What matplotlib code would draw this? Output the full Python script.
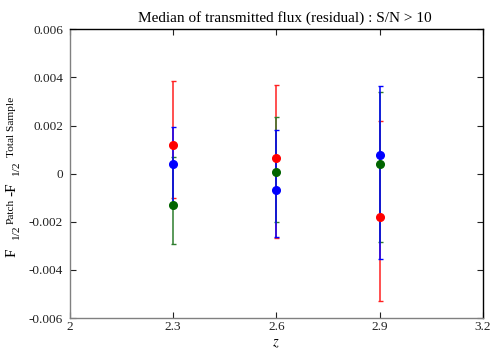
import matplotlib
matplotlib.use("Agg")
import matplotlib.pyplot as plt
import numpy as np

plt.rcParams['font.family'] = ['Liberation Serif', 'DejaVu Serif']
plt.rcParams['mathtext.fontset'] = 'stix'

z = [2.3, 2.6, 2.9]

red_val = [1.21e-3, 0.63e-3, -1.82e-3]
red_low = [-1.0e-3, -2.66e-3, -5.30e-3]
red_high = [3.85e-3, 3.67e-3, 2.18e-3]

green_val = [-1.29e-3, 0.07e-3, 0.41e-3]
green_low = [-2.91e-3, -2.0e-3, -2.84e-3]
green_high = [0.70e-3, 2.36e-3, 3.41e-3]

blue_val = [0.39e-3, -0.66e-3, 0.77e-3]
blue_low = [-1.21e-3, -2.62e-3, -3.55e-3]
blue_high = [1.93e-3, 1.80e-3, 3.64e-3]

xticks = [2, 2.3, 2.6, 2.9, 3.2]
xticklabels = ['2', '2.3', '2.6', '2.9', '3.2']
yticks = [-0.006, -0.004, -0.002, 0, 0.002, 0.004, 0.006]
yticklabels = ['-0.006', '-0.004', '-0.002', '0', '0.002', '0.004', '0.006']

title = 'Median of transmitted flux (residual) : S/N > 10'
# y-label pieces (gnuplot enhanced text): text and level (0 main, -1 sub, +1 sup)
ylabel_texts = ['F', '1/2', 'Patch', '-F', '1/2', 'Total Sample']
ylabel_levels = [0, -1, 1, 0, -1, 1]
# layout: pixel row where each rotated piece starts (from top of image)
ylabel_starts = [257, 240, 224, 196, 176, 157]

W, H = 500, 350
fig = plt.figure(figsize=(5, 3.5), dpi=100)
ax = fig.add_axes([0.14, 0.0914, 0.8254, 0.8249])

series = [
    (red_val, red_low, red_high, '#ff0000', '#ff2020'),
    (green_val, green_low, green_high, '#006400', '#2e7d2e'),
    (blue_val, blue_low, blue_high, '#0000ff', '#0000ff'),
]
for val, low, high, mc, lc in series:
    val = np.array(val); low = np.array(low); high = np.array(high)
    yerr = np.vstack([val - low, high - val])
    ax.errorbar(z, val, yerr=yerr, fmt='o', color=mc, ecolor=lc,
                elinewidth=1.1, capsize=1.8, capthick=1.0, markersize=5.5)

ax.set_xlim(2, 3.2)
ax.set_ylim(-0.006, 0.006)
ax.set_xticks(xticks)
ax.set_xticklabels(xticklabels)
ax.set_yticks(yticks)
ax.set_yticklabels(yticklabels)
ax.tick_params(direction='in', length=4, width=0.8, top=True, right=True,
               labelsize=9.5, colors='#222222')
ax.tick_params(axis='x', pad=2)
ax.tick_params(axis='y', pad=5)
for side in ['left', 'bottom']:
    ax.spines[side].set_color('#808080')
for side in ['top', 'right']:
    ax.spines[side].set_color('#000000')
for s in ax.spines.values():
    s.set_linewidth(1.0)

fig.text(285 / W, (H - 22) / H, title, fontsize=11, ha='center', va='baseline')
fig.text(276 / W, (H - 346) / H, '$z$', fontsize=10.5, ha='center', va='baseline')

main_size = 11
small_size = 8.2
base_x = 15.5
for txt, lvl, ys in zip(ylabel_texts, ylabel_levels, ylabel_starts):
    size = main_size if lvl == 0 else small_size
    bx = base_x + (4.0 if lvl == -1 else (-1.5 if lvl == 1 else 0.0))
    fig.text(bx / W, (H - ys) / H, txt, fontsize=size, rotation=90,
             rotation_mode='anchor', ha='left', va='baseline')

fig.savefig('out.png', dpi=100)
